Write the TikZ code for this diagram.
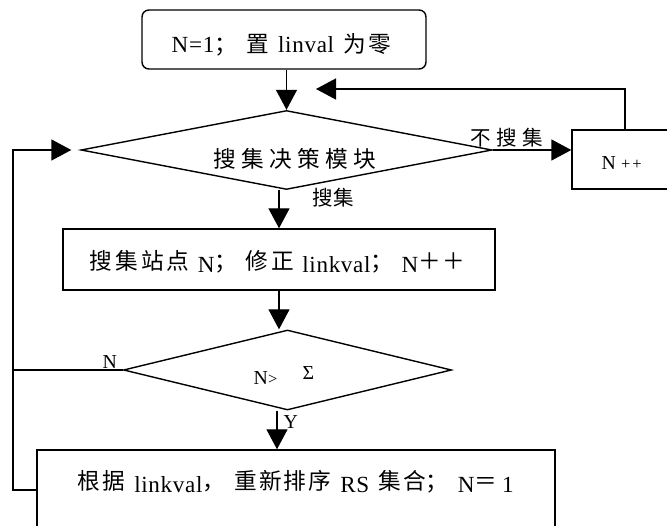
\documentclass[tikz,border=0pt]{standalone}
\usepackage{fontspec}
\setmainfont{Liberation Serif}[LetterSpace=3,Scale=1.1]
\newfontfamily\cjk{Noto Sans CJK SC}[Scale=1.08]
\newcommand\zh[1]{{\cjk #1}}
\newcommand\zhr[1]{\raisebox{3pt}{\cjk #1}}
\usetikzlibrary{shapes.geometric,arrows.meta}
\begin{document}
\begin{tikzpicture}[x=1pt,y=-1pt,line width=1.4pt,
  arr/.style={-{Triangle[length=20pt,width=21pt]}},
  box/.style={draw,rectangle,inner sep=0pt},
  dia/.style={draw,diamond,inner sep=0pt},
  txt/.style={inner sep=0pt,anchor=base west,font=\fontsize{21}{24}\selectfont},
  lbl/.style={inner sep=0pt,anchor=base west,font=\fontsize{18}{20}\selectfont}]
\useasboundingbox (0,0) rectangle (667,526);
\clip (0,0) rectangle (667,526);
% shapes
\node[box,rounded corners=7pt,minimum width=284pt,minimum height=59pt] (start) at (284,39.5) {};
\node[dia,minimum width=411pt,minimum height=79pt] (d1) at (286.5,150) {};
\node[box,minimum width=108pt,minimum height=59pt] (npp) at (626,159.5) {};
\node[box,minimum width=432pt,minimum height=61pt] (b2) at (279,259.5) {};
\node[dia,minimum width=328pt,minimum height=80pt] (d2) at (287.5,370) {};
\node[box,minimum width=518pt,minimum height=80pt] (b3) at (296,490) {};
% texts
\node[txt] (t0) at (171,53) {\hbox to 219pt{N=1\zh{；}\hfil\zh{置}\hfil linval\hfil\zh{为\hskip 2pt 零}}};
\node[txt] (t1) at (213,168) {\hbox to 162pt{\cjk 搜\hfil 集\hfil 决\hfil 策\hfil 模\hfil 块}};
\node[txt] (t2) at (89,273) {\hbox to 375pt{\zhr{搜\hskip 3pt 集\hskip 3pt 站\hskip 3pt 点}\hfil N\zhr{；}\hfil\zhr{修\hskip 3pt 正}\hfil linkval\zhr{；}\hfil N\zhr{＋}\hskip 1pt\zhr{＋}}};
\node[txt] (t3) at (77,493) {\hbox to 436pt{\zhr{根\hskip 2pt 据}\hfil linkval\zhr{，}\hfil\zhr{重\hskip 2pt 新\hskip 2pt 排\hskip 2pt 序}\hfil RS\hfil\zhr{集\hskip 2pt 合；}\hfil N\zhr{＝}\hskip 5pt 1}};
\node[lbl] (t4) at (253,385) {N{\fontsize{15}{16}\selectfont >}};
\node[lbl] (t5) at (302,380) {Σ};
\node[lbl] (t6) at (601,170) {N\hskip 5pt{\fontsize{15}{16}\selectfont +\hskip 2pt+}};
\node[txt,font=\fontsize{19}{22}\selectfont] (l1) at (470,146) {\hbox to 72pt{\cjk 不\hfil 搜\hfil 集}};
\node[txt,font=\fontsize{19}{22}\selectfont] (l2) at (312,206) {\hbox to 40pt{\cjk 搜\hfil 集}};
\node[lbl] (l3) at (102,369) {N};
\node[lbl] (l4) at (283,429) {Y};
% connectors
\coordinate (fbc) at (625,89);
\coordinate (fbe) at (316,89);
\coordinate (yx) at (277,0);
\coordinate (lp) at (13,0);
\draw[arr] (d1.north |- start.south) -- (d1.north);
\draw[arr] (d1.east) -- (d1.east -| npp.west);
\draw[arr] (npp.north -| fbc) -- (fbc) -- (fbe);
\draw[arr] (b2.north |- d1.south) -- (b2.north);
\draw[arr] (b2.south) -- (b2.south |- d2.north);
\draw[arr] (d2.south -| yx) -- (b3.north -| yx);
\draw (d2.west) -- (d2.west -| lp);
\draw[arr,shorten >=9pt] (b3.west) -- (b3.west -| lp) -- (d1.west -| lp) -- (d1.west);
\end{tikzpicture}
\end{document}
